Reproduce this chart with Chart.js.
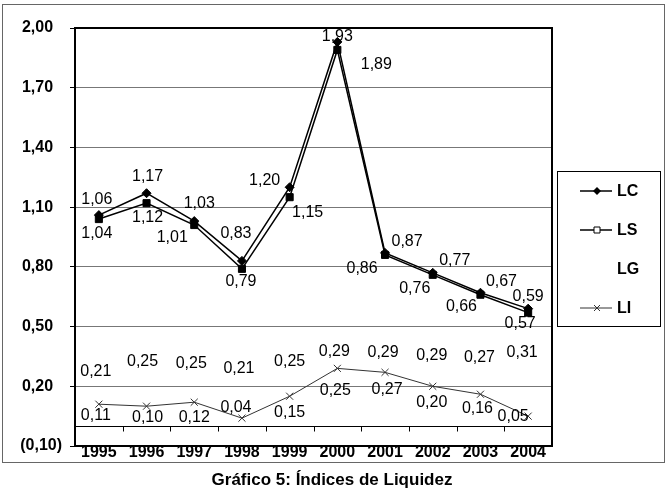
<!DOCTYPE html>
<html>
<head>
<meta charset="utf-8">
<title>Índices de Liquidez</title>
<script src="https://cdn.jsdelivr.net/npm/chart.js@4.4.1/dist/chart.umd.min.js"></script>
<style>
  body { margin: 0; background: #fff; }
  #wrap { width: 668px; height: 494px; }
</style>
</head>
<body>
<div id="wrap"><canvas id="myChart" width="668" height="494"></canvas></div>
<script>
// data
const years = ['1995', '1996', '1997', '1998', '1999', '2000', '2001', '2002', '2003', '2004'];
const lc = [1.06, 1.17, 1.03, 0.83, 1.20, 1.93, 0.87, 0.77, 0.67, 0.59];
const ls = [1.04, 1.12, 1.01, 0.79, 1.15, 1.89, 0.86, 0.76, 0.66, 0.57];
const lg = [0.21, 0.25, 0.25, 0.21, 0.25, 0.29, 0.29, 0.29, 0.27, 0.31];
const li = [0.11, 0.10, 0.12, 0.04, 0.15, 0.29, 0.27, 0.20, 0.16, 0.05];
const liLabels = ['0,11', '0,10', '0,12', '0,04', '0,15', '0,25', '0,27', '0,20', '0,16', '0,05'];
const yMin = -0.10, yMax = 2.00, yStep = 0.30;
const chartTitle = 'Gráfico 5: Índices de Liquidez';

// where each value label sits relative to its point (px)
const labelOffsets = {
    LC: [[-2, -16], [1, -17], [5, -17], [-6, -27], [-25, -7], [0, -5], [22, -11], [22, -12], [21, -11], [0, -12]],
    LS: [[-2, 15], [1, 14], [-22, 13], [-1, 13], [18, 15], [39, 15], [-23, 14], [-18, 14], [-19, 12], [-8, 11]],
    LG: [[-3, -13], [-4, -15], [-3, -13], [-3, -16], [0, -15], [-3, -17], [-2, -16], [-1, -13], [-1, -15], [-6, -12]],
    LI: [[-3, 11], [1, 11], [0, 15], [-6, -11], [0, 16], [-2, 22], [2, 17], [-1, 16], [-3, 14], [-15, 0]]
};

const FONT = '"Liberation Sans", Arial, sans-serif';

function fmt(v) {
    return Number(v).toFixed(2).replace('.', ',');
}

function drawMarker(ctx, style, x, y) {
    ctx.beginPath();
    if (style === 'rectRot') {
        ctx.moveTo(x, y - 4); ctx.lineTo(x + 4, y); ctx.lineTo(x, y + 4); ctx.lineTo(x - 4, y);
        ctx.closePath();
        ctx.fill();
    } else if (style === 'rect') {
        ctx.rect(x - 3, y - 3, 6, 6);
        ctx.fillStyle = '#fff';
        ctx.fill();
        ctx.stroke();
    } else if (style === 'crossRot') {
        ctx.moveTo(x - 3, y - 3); ctx.lineTo(x + 3, y + 3);
        ctx.moveTo(x + 3, y - 3); ctx.lineTo(x - 3, y + 3);
        ctx.stroke();
    }
}

const decorPlugin = {
    id: 'decor',
    beforeDraw: function(chart) {
        const ctx = chart.ctx;
        ctx.save();
        ctx.fillStyle = '#fff';
        ctx.fillRect(0, 0, chart.width, chart.height);
        // outer chart frame
        ctx.strokeStyle = '#666';
        ctx.lineWidth = 1;
        ctx.strokeRect(2.5, 4.5, 662, 458);
        ctx.restore();
    },
    beforeDatasetsDraw: function(chart) {
        // x axis crossing at zero, with tick marks between categories
        const ctx = chart.ctx;
        const area = chart.chartArea;
        const y0 = Math.round(chart.scales.y.getPixelForValue(0)) + 0.5;
        ctx.save();
        ctx.strokeStyle = '#000';
        ctx.lineWidth = 1;
        ctx.beginPath();
        ctx.moveTo(area.left, y0);
        ctx.lineTo(area.right, y0);
        const step = (area.right - area.left) / years.length;
        for (let i = 1; i < years.length; i++) {
            const x = Math.round(area.left + step * i) + 0.5;
            ctx.moveTo(x, y0);
            ctx.lineTo(x, y0 + 5);
        }
        ctx.stroke();
        ctx.restore();
    },
    afterDatasetsDraw: function(chart) {
        const ctx = chart.ctx;
        ctx.save();
        ctx.font = '16px ' + FONT;
        ctx.fillStyle = '#000';
        ctx.textAlign = 'center';
        ctx.textBaseline = 'middle';
        chart.data.datasets.forEach(function(ds, i) {
            const meta = chart.getDatasetMeta(i);
            const offs = labelOffsets[ds.label];
            meta.data.forEach(function(pt, j) {
                const txt = ds.label === 'LI' ? liLabels[j] : fmt(ds.data[j]);
                ctx.fillText(txt, pt.x + offs[j][0], pt.y + offs[j][1]);
            });
        });
        ctx.restore();
    },
    afterDraw: function(chart) {
        const ctx = chart.ctx;
        const area = chart.chartArea;
        ctx.save();
        // plot frame
        ctx.strokeStyle = '#000';
        ctx.lineWidth = 2;
        ctx.strokeRect(area.left, area.top, area.right - area.left, area.bottom - area.top);

        // legend box
        const bx = 557, by = 171, bw = 103, bh = 155;
        ctx.lineWidth = 1;
        ctx.strokeStyle = '#000';
        ctx.strokeRect(bx + 0.5, by + 0.5, bw, bh);
        ctx.font = 'bold 16px ' + FONT;
        ctx.textAlign = 'left';
        ctx.textBaseline = 'middle';
        chart.data.datasets.forEach(function(ds, i) {
            const y = by + 20 + i * 39;
            if (ds.showLine !== false) {
                ctx.strokeStyle = ds.borderColor;
                ctx.lineWidth = ds.borderWidth;
                ctx.beginPath();
                ctx.moveTo(580, y);
                ctx.lineTo(612, y);
                ctx.stroke();
                ctx.fillStyle = ds.borderColor;
                ctx.lineWidth = 1;
                drawMarker(ctx, ds.pointStyle, 597, y);
            }
            ctx.fillStyle = '#000';
            ctx.fillText(ds.label, 617, y + 1);
        });

        // title
        ctx.font = 'bold 17px ' + FONT;
        ctx.textAlign = 'center';
        ctx.fillStyle = '#000';
        ctx.fillText(chartTitle, 332, 480);
        ctx.restore();
    }
};

const ctx = document.getElementById('myChart').getContext('2d');
const chart = new Chart(ctx, {
    type: 'line',
    data: {
        labels: years,
        datasets: [
            {
                label: 'LC', data: lc,
                borderColor: '#000', backgroundColor: '#000', borderWidth: 1.5,
                pointStyle: 'rectRot', pointRadius: 4.5, pointBorderWidth: 1
            },
            {
                label: 'LS', data: ls,
                borderColor: '#000', backgroundColor: '#000', borderWidth: 1.5,
                pointStyle: 'rect', pointRadius: 5, pointBorderWidth: 1
            },
            {
                label: 'LG', data: lg,
                showLine: false, pointRadius: 0, borderColor: 'rgba(0,0,0,0)'
            },
            {
                label: 'LI', data: li,
                borderColor: '#333', backgroundColor: '#333', borderWidth: 1,
                pointStyle: 'crossRot', pointRadius: 5, pointBorderWidth: 1
            }
        ]
    },
    options: {
        responsive: false,
        animation: false,
        layout: { padding: { left: 0, right: 116, top: 28, bottom: 0 } },
        plugins: {
            legend: { display: false },
            tooltip: { enabled: false }
        },
        scales: {
            x: {
                offset: true,
                grid: { display: false, drawTicks: false },
                border: { display: false },
                ticks: {
                    color: '#000',
                    padding: -3,
                    maxRotation: 0,
                    font: { family: FONT, size: 16, weight: 'bold' }
                },
                afterFit: function(axis) { axis.height = 48; }
            },
            y: {
                min: yMin,
                max: yMax,
                grid: { color: '#777', lineWidth: 1, tickLength: 5, tickColor: '#000' },
                border: { display: false },
                ticks: {
                    stepSize: yStep,
                    color: '#000',
                    padding: 8,
                    font: { family: FONT, size: 16, weight: 'bold' },
                    // negatives in brackets, positives keep room for the bracket
                    callback: function(value) {
                        return value < 0 ? '(' + fmt(-value) + ')' : fmt(value) + '\u00a0\u00a0';
                    }
                },
                afterFit: function(axis) { axis.width = 75; }
            }
        }
    },
    plugins: [decorPlugin]
});
</script>
</body>
</html>
